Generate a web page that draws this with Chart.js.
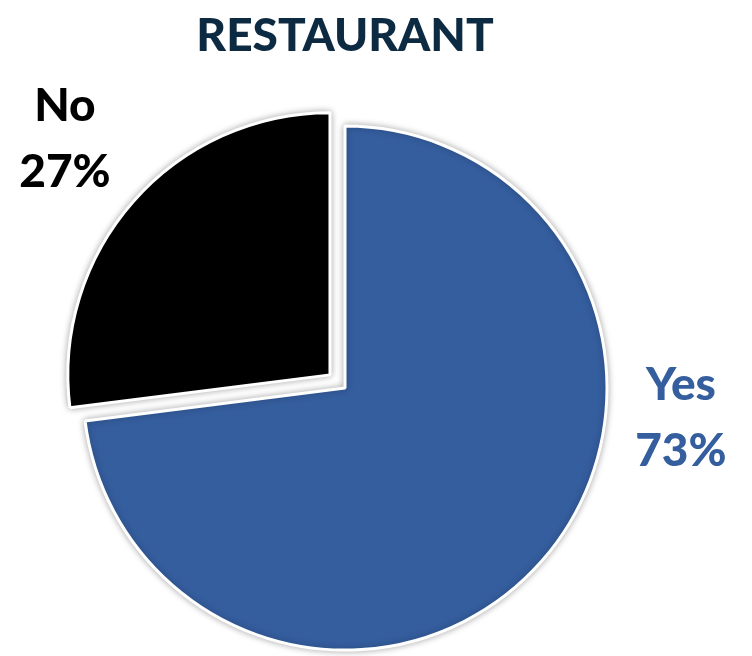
<!DOCTYPE html>
<html>
<head>
<meta charset="utf-8">
<title>Restaurant</title>
<script src="https://cdn.jsdelivr.net/npm/chart.js@4"></script>
<style>
    html, body { margin: 0; padding: 0; background: #ffffff; }
    #wrap { width: 752px; height: 656px; }
</style>
</head>
<body>
<div id="wrap"><canvas id="pieChart"></canvas></div>
<script>
const categories = ['Yes', 'No'];
const shares = [73, 27];
const sliceColors = ['#355e9f', '#000000'];
const labelColors = ['#355e9f', '#000000'];

// where each slice's caption sits, as a fraction of the radius from the pie centre
const labelSpots = [
    { fx: 1.282, fy: 0.113 },
    { fx: -1.069, fy: -0.950 }
];

const FONT = 'Lato, "Open Sans", sans-serif';

// soft grey halo round the slices
const sliceShadow = {
    id: 'sliceShadow',
    beforeDatasetsDraw(chart) {
        const ctx = chart.ctx;
        ctx.save();
        ctx.shadowColor = 'rgba(0, 0, 0, 0.3)';
        ctx.shadowBlur = 7;
    },
    afterDatasetsDraw(chart) {
        chart.ctx.restore();
    }
};

// two-line "Name NN%" captions beside the slices
const sliceCaptions = {
    id: 'sliceCaptions',
    afterDraw(chart) {
        const ctx = chart.ctx;
        const meta = chart.getDatasetMeta(0);
        ctx.save();
        ctx.font = '900 46px ' + FONT;
        ctx.textAlign = 'center';
        ctx.textBaseline = 'middle';
        meta.data.forEach((arc, i) => {
            const r = arc.outerRadius;
            const x = arc.x + labelSpots[i].fx * r;
            const y = arc.y + labelSpots[i].fy * r;
            ctx.fillStyle = labelColors[i];
            ctx.fillText(categories[i], x, y - 33);
            ctx.fillText(shares[i] + '%', x, y + 33);
        });
        ctx.restore();
    }
};

function createPieChart() {
    const ctx = document.getElementById('pieChart').getContext('2d');

    new Chart(ctx, {
        type: 'pie',
        data: {
            labels: categories,
            datasets: [{
                data: shares,
                backgroundColor: sliceColors,
                borderColor: '#ffffff',
                borderWidth: 3,
                offset: [0, 80],
                radius: 262,
                clip: false
            }]
        },
        options: {
            responsive: true,
            maintainAspectRatio: false,
            animation: false,
            layout: {
                padding: { left: 0, right: 62, top: 0, bottom: 0 }
            },
            plugins: {
                legend: { display: false },
                tooltip: { enabled: false },
                title: {
                    display: true,
                    text: 'RESTAURANT',
                    color: '#0c2a42',
                    font: { family: FONT, size: 46, weight: 900, lineHeight: 1.2 },
                    padding: { top: 9, bottom: 56 }
                }
            }
        },
        plugins: [sliceShadow, sliceCaptions]
    });
}

createPieChart();
</script>
</body>
</html>
